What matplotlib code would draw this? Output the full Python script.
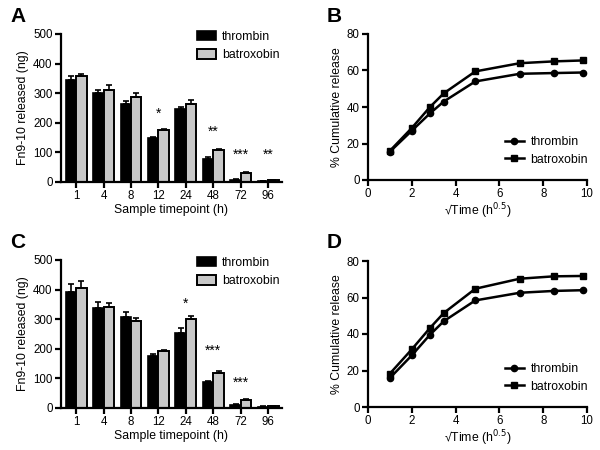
import numpy as np
import matplotlib.pyplot as plt

plt.rcParams['font.family'] = ['Liberation Sans', 'DejaVu Sans']

timepoints = ['1', '4', '8', '12', '24', '48', '72', '96']
sqrt_time = [1, 2, 2.83, 3.46, 4.9, 6.93, 8.49, 9.8]

# panel A: release per timepoint (ng), mean and SEM
a_thr = [345, 300, 263, 148, 245, 79, 8, 4]
a_thr_err = [12, 11, 10, 3, 7, 6, 2, 1]
a_bat = [357, 311, 286, 174, 265, 108, 31, 6]
a_bat_err = [8, 17, 16, 5, 11, 4, 2, 1]
a_stars = ['', '', '', '*', '', '**', '***', '**']
a_star_y = [0, 0, 0, 232, 0, 170, 93, 93]

# panel C
c_thr = [392, 338, 309, 177, 253, 88, 10, 5]
c_thr_err = [28, 19, 17, 6, 18, 2, 2, 1]
c_bat = [404, 341, 294, 191, 300, 118, 26, 6]
c_bat_err = [25, 14, 11, 6, 12, 8, 3, 1]
c_stars = ['', '', '', '', '*', '***', '***', '']
c_star_y = [0, 0, 0, 0, 352, 193, 85, 0]

# panels B and D: cumulative release (%)
b_thr = [15.5, 27, 36.5, 43, 54, 58.2, 58.6, 58.9]
b_bat = [16, 28.5, 40, 47.5, 59.5, 64, 65, 65.5]
d_thr = [15.9, 28.3, 39.6, 47, 58.4, 62.6, 63.6, 64]
d_bat = [18.3, 31.6, 43.3, 51.5, 64.8, 70.3, 71.6, 71.8]


def style_axes(ax):
    for s in ['top', 'right']:
        ax.spines[s].set_visible(False)
    for s in ['left', 'bottom']:
        ax.spines[s].set_linewidth(1.6)
    ax.tick_params(width=1.6, length=4, labelsize=8.3, direction='out', pad=2)


def bar_panel(ax, thr, thr_err, bat, bat_err, stars, star_y):
    x = np.arange(len(timepoints))
    w = 0.38
    ax.bar(x - w / 2, thr, w, color='black', edgecolor='black', linewidth=1.2,
           label='thrombin')
    ax.bar(x + w / 2, bat, w, color='#c8c8c8', edgecolor='black', linewidth=1.4,
           label='batroxobin')
    ax.errorbar(x - w / 2, thr, yerr=[np.zeros(len(thr)), thr_err], fmt='none',
                ecolor='black', elinewidth=1.2, capsize=2.5, capthick=1.2)
    ax.errorbar(x + w / 2, bat, yerr=[np.zeros(len(bat)), bat_err], fmt='none',
                ecolor='black', elinewidth=1.2, capsize=2.5, capthick=1.2)
    for xi, s, yi in zip(x, stars, star_y):
        if s:
            ax.text(xi, yi, s, ha='center', va='center', fontsize=10)
    ax.set_xlim(-0.55, 7.5)
    ax.set_ylim(0, 500)
    ax.set_yticks([0, 100, 200, 300, 400, 500])
    ax.set_xticks(x)
    ax.set_xticklabels(timepoints)
    ax.set_xlabel('Sample timepoint (h)', fontsize=8.8, labelpad=1)
    ax.set_ylabel('Fn9-10 released (ng)', fontsize=8.8, labelpad=3)
    style_axes(ax)
    ax.legend(loc='upper left', bbox_to_anchor=(0.615, 1.02), frameon=False,
              fontsize=8.8, handlelength=1.55, handleheight=0.8, borderpad=0,
              borderaxespad=0, handletextpad=0.5, labelspacing=0.5)


def line_panel(ax, thr, bat):
    ax.plot(sqrt_time, thr, '-o', color='black', lw=1.8, ms=4.5, label='thrombin')
    ax.plot(sqrt_time, bat, '-s', color='black', lw=1.8, ms=4.5, label='batroxobin')
    ax.set_xlim(0, 10)
    ax.set_ylim(0, 80)
    ax.set_xticks([0, 2, 4, 6, 8, 10])
    ax.set_yticks([0, 20, 40, 60, 80])
    ax.set_xlabel('√Time (h$^{0.5}$)', fontsize=8.8, labelpad=1)
    ax.set_ylabel('% Cumulative release', fontsize=8.8, labelpad=3)
    style_axes(ax)
    ax.legend(loc='upper left', bbox_to_anchor=(0.625, 0.30), frameon=False,
              fontsize=8.8, handlelength=1.55, handletextpad=0.55, borderpad=0,
              borderaxespad=0, labelspacing=0.45)


fig = plt.figure(figsize=(6, 4.5), dpi=100)
axA = fig.add_axes([61 / 600, 1 - 182 / 450, 221 / 600, 148 / 450])
axB = fig.add_axes([368 / 600, 1 - 180 / 450, 219 / 600, 146 / 450])
axC = fig.add_axes([61 / 600, 1 - 408 / 450, 221 / 600, 148 / 450])
axD = fig.add_axes([368 / 600, 1 - 407 / 450, 219 / 600, 146 / 450])

bar_panel(axA, a_thr, a_thr_err, a_bat, a_bat_err, a_stars, a_star_y)
line_panel(axB, b_thr, b_bat)
bar_panel(axC, c_thr, c_thr_err, c_bat, c_bat_err, c_stars, c_star_y)
line_panel(axD, d_thr, d_bat)

for lab, x, y in [('A', 10, 16), ('B', 327, 16), ('C', 10, 242), ('D', 327, 242)]:
    fig.text(x / 600, 1 - y / 450, lab, fontsize=15, fontweight='bold',
             ha='left', va='center')

fig.savefig('out.png', dpi=100)
